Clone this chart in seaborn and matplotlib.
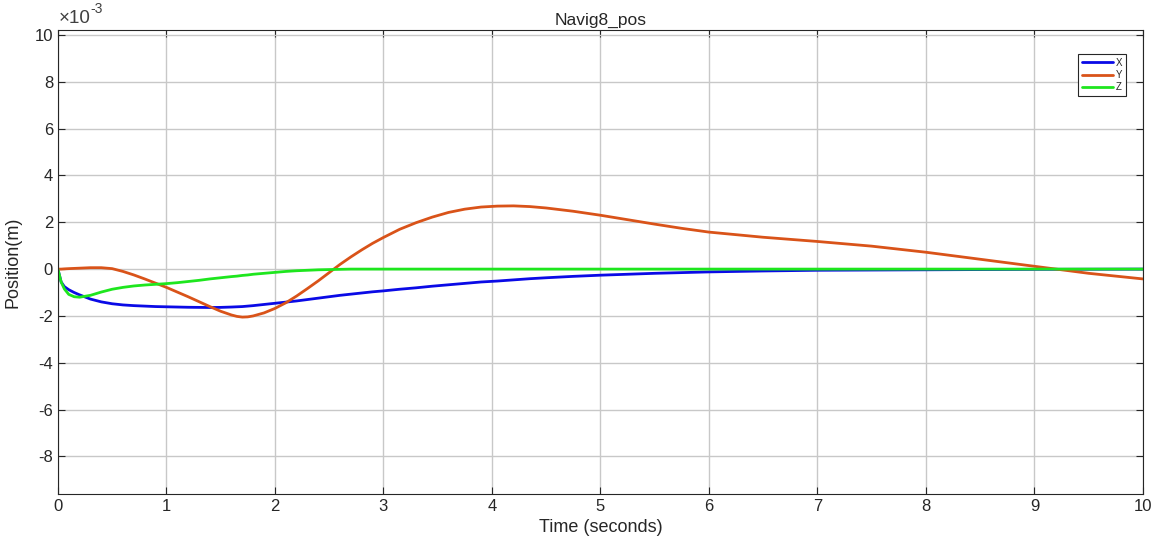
import numpy as np
import pandas as pd
import matplotlib
matplotlib.use("Agg")
import matplotlib.pyplot as plt
import seaborn as sns
from matplotlib.ticker import FuncFormatter

# ---- data (position values in units of 1e-3 m) ----
time_s = [0, 0.03, 0.06, 0.1, 0.15, 0.2, 0.3, 0.4, 0.5, 0.6, 0.7, 0.8, 0.9, 1.0, 1.1,
          1.2, 1.3, 1.4, 1.5, 1.6, 1.65, 1.7, 1.75, 1.8, 1.9, 2.0, 2.1, 2.2, 2.3, 2.4,
          2.5, 2.6, 2.7, 2.8, 2.9, 3.0, 3.15, 3.3, 3.45, 3.6, 3.75, 3.9, 4.05, 4.2,
          4.35, 4.5, 4.75, 5.0, 5.25, 5.5, 5.75, 6.0, 6.5, 7.0, 7.5, 8.0, 8.5, 9.0,
          9.5, 10.0]
pos_x = [0, -0.55, -0.75, -0.88, -1.0, -1.1, -1.28, -1.4, -1.48, -1.53, -1.56, -1.58,
         -1.6, -1.61, -1.62, -1.63, -1.635, -1.64, -1.635, -1.62, -1.61, -1.6, -1.58,
         -1.56, -1.51, -1.46, -1.41, -1.36, -1.3, -1.24, -1.18, -1.12, -1.07, -1.02,
         -0.97, -0.93, -0.86, -0.8, -0.73, -0.67, -0.61, -0.55, -0.51, -0.46, -0.41,
         -0.37, -0.31, -0.26, -0.22, -0.18, -0.15, -0.12, -0.08, -0.05, -0.04, -0.03,
         -0.02, -0.01, -0.005, 0]
pos_y = [0, 0.0, 0.01, 0.02, 0.03, 0.04, 0.06, 0.06, 0.02, -0.1, -0.25, -0.42, -0.6,
         -0.78, -0.98, -1.18, -1.39, -1.6, -1.8, -1.96, -2.02, -2.05, -2.04, -2.0,
         -1.87, -1.68, -1.44, -1.15, -0.83, -0.5, -0.15, 0.2, 0.52, 0.82, 1.1, 1.35,
         1.7, 1.98, 2.22, 2.42, 2.56, 2.65, 2.69, 2.7, 2.67, 2.61, 2.47, 2.3, 2.11,
         1.92, 1.74, 1.58, 1.36, 1.18, 0.98, 0.72, 0.42, 0.12, -0.18, -0.42]
pos_z = [0, -0.55, -0.85, -1.08, -1.18, -1.2, -1.12, -0.98, -0.86, -0.78, -0.72, -0.68,
         -0.65, -0.62, -0.58, -0.53, -0.48, -0.42, -0.37, -0.32, -0.3, -0.27, -0.25,
         -0.22, -0.18, -0.14, -0.1, -0.07, -0.05, -0.03, -0.02, -0.01, 0, 0, 0, 0,
         0, 0, 0, 0, 0, 0, 0, 0, 0, 0, 0, 0, 0, 0, 0, 0, 0, 0, 0, 0, 0, 0, 0, 0]
series_names = ["X", "Y", "Z"]
series_colors = ["#0A0AE6", "#D95319", "#1EE61E"]
x_ticks = list(range(0, 11))
y_ticks = [-8, -6, -4, -2, 0, 2, 4, 6, 8, 10]

rows = []
for name, vals in zip(series_names, [pos_x, pos_y, pos_z]):
    for t, v in zip(time_s, vals):
        rows.append({"Time": t, "Position": v * 1e-3, "Series": name})
df = pd.DataFrame(rows)

sns.set_style("white")
plt.rcParams["font.family"] = ["Liberation Sans", "DejaVu Sans"]
plt.rcParams["axes.unicode_minus"] = False

fig = plt.figure(figsize=(11.58, 5.5), dpi=100)
ax = fig.add_axes([0.050, 0.102, 0.937, 0.843])

sns.lineplot(data=df, x="Time", y="Position", hue="Series", hue_order=series_names,
             palette=series_colors, linewidth=2, ax=ax, sort=False, estimator=None)

ax.set_xlim(0, 10)
ax.set_ylim(-9.6e-3, 10.2e-3)
ax.set_xticks(x_ticks)
ax.set_yticks([v * 1e-3 for v in y_ticks])
ax.yaxis.set_major_formatter(FuncFormatter(lambda v, p: f"{round(v * 1e3):d}"))

# exponent label (MATLAB style)
ax.text(0.001, 1.006, "\u00d710", transform=ax.transAxes, ha="left", va="bottom",
        fontsize=13.5, color="#404040")
ax.text(0.0295, 1.03, "-3", transform=ax.transAxes, ha="left", va="bottom",
        fontsize=10, color="#404040")

ax.grid(True, color="#c8c8c8", linewidth=1)
ax.tick_params(direction="in", length=5, labelsize=12, colors="#262626",
               top=True, right=True, bottom=True, left=True)
for s in ax.spines.values():
    s.set_color("#262626")
    s.set_linewidth(0.8)

ax.set_xlabel("Time (seconds)", fontsize=13, color="#262626")
ax.set_ylabel("Position(m)", fontsize=13, color="#262626")
ax.yaxis.set_label_coords(-0.034, 0.5)
ax.set_title("Navig8_pos", fontsize=12.5, color="#262626", pad=4)

leg = ax.legend(loc="upper right", bbox_to_anchor=(0.989, 0.96), fontsize=7,
                frameon=True, fancybox=False, framealpha=1, edgecolor="#262626",
                handlelength=3.2, handletextpad=0.3, borderpad=0.4, labelspacing=0.25)
leg.get_frame().set_linewidth(0.8)
for line in leg.get_lines():
    line.set_linewidth(2)

fig.savefig("out.png", dpi=100)
